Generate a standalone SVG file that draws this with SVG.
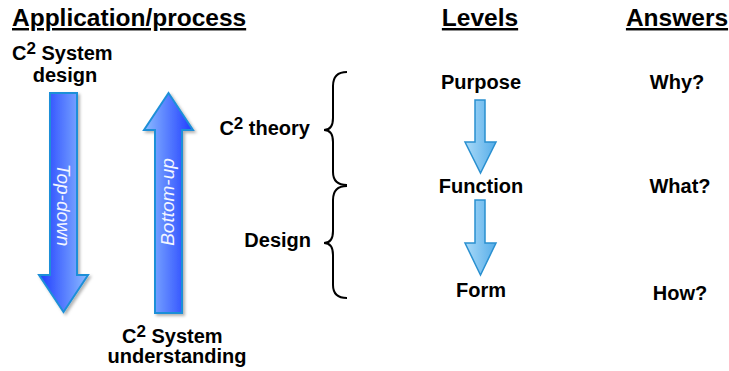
<svg xmlns="http://www.w3.org/2000/svg" width="729" height="371" viewBox="0 0 729 371">
<defs>
<linearGradient id="gDown" x1="0" y1="0" x2="1" y2="0"><stop offset="0" stop-color="#1f3cff"/><stop offset="1" stop-color="#8cbcff"/></linearGradient>
<linearGradient id="gUp" x1="0" y1="0" x2="1" y2="0"><stop offset="0" stop-color="#8cbcff"/><stop offset="1" stop-color="#1f3cff"/></linearGradient>
<linearGradient id="gLevel" x1="0" y1="0" x2="1" y2="0"><stop offset="0" stop-color="#aadaf8"/><stop offset="1" stop-color="#56ade9"/></linearGradient>
<filter id="sh" x="-20%" y="-10%" width="150%" height="130%"><feDropShadow dx="2" dy="2" stdDeviation="1.5" flood-color="#000" flood-opacity="0.3"/></filter>
</defs>
<style>
text{font-family:"Liberation Sans",Arial,sans-serif;fill:#000}
.h{font-size:24.5px;font-weight:bold;text-decoration:underline}
.l{font-size:20px;font-weight:bold}
.sup{font-size:17px}
.big{stroke:#1e8fd8;stroke-width:2;filter:url(#sh)}
.lv{fill:url(#gLevel);stroke:#2a90d0;stroke-width:1.5}
.rot{font-size:19px;font-style:italic;fill:#f2f6ff;text-anchor:middle}
.brace{fill:none;stroke:#000;stroke-width:2}
</style>
<g id="headers">
<text class="h" x="12" y="26">Application/process</text>
<text class="h" x="480" y="26" text-anchor="middle">Levels</text>
<text class="h" x="677" y="26" text-anchor="middle">Answers</text>
</g>
<g id="system-design">
<text class="l" x="12" y="60">C<tspan class="sup" dy="-6">2</tspan><tspan dy="6"> System</tspan></text>
<text class="l" x="65" y="82" text-anchor="middle">design</text>
</g>
<g id="top-down">
<path class="big" fill="url(#gDown)" d="M50,93 L77,93 L77,275 L88,275 L63.5,312 L39,275 L50,275 Z"/>
<text class="rot" transform="translate(63,205) rotate(90)" y="6">Top-down</text>
</g>
<g id="bottom-up">
<path class="big" fill="url(#gUp)" d="M168.5,93 L193,130 L182,130 L182,313 L155,313 L155,130 L144,130 Z"/>
<text class="rot" transform="translate(168,202) rotate(-90)" y="6">Bottom-up</text>
</g>
<g id="system-understanding">
<text class="l" x="122" y="343">C<tspan class="sup" dy="-6">2</tspan><tspan dy="6"> System</tspan></text>
<text class="l" x="177" y="363" text-anchor="middle">understanding</text>
</g>
<g id="c2-theory">
<text class="l" x="310" y="135" text-anchor="end">C<tspan class="sup" dy="-6">2</tspan><tspan dy="6"> theory</tspan></text>
<path class="brace" d="M347,72 Q333,72 333,86 L333,118 Q333,130 324,130 Q333,130 333,142 L333,172 Q333,185 347,185"/>
</g>
<g id="design">
<text class="l" x="311" y="247" text-anchor="end">Design</text>
<path class="brace" d="M347,186 Q333,186 333,200 L333,231 Q333,243 324,243 Q333,243 333,255 L333,285 Q333,298 347,298"/>
</g>
<g id="purpose"><text class="l" x="481" y="89" text-anchor="middle">Purpose</text></g>
<g id="function"><text class="l" x="481" y="193" text-anchor="middle">Function</text></g>
<g id="form"><text class="l" x="481" y="297" text-anchor="middle">Form</text></g>
<g id="why"><text class="l" x="677" y="89" text-anchor="middle">Why?</text></g>
<g id="what"><text class="l" x="680" y="193" text-anchor="middle">What?</text></g>
<g id="how"><text class="l" x="680" y="300" text-anchor="middle">How?</text></g>
<g id="connectors">
<path class="lv" d="M475,100 L485,100 L485,142 L496,142 L480.5,173 L465,142 L475,142 Z"/>
<path class="lv" d="M475,200 L485,200 L485,243 L496,243 L480.5,275 L465,243 L475,243 Z"/>
</g>
</svg>
